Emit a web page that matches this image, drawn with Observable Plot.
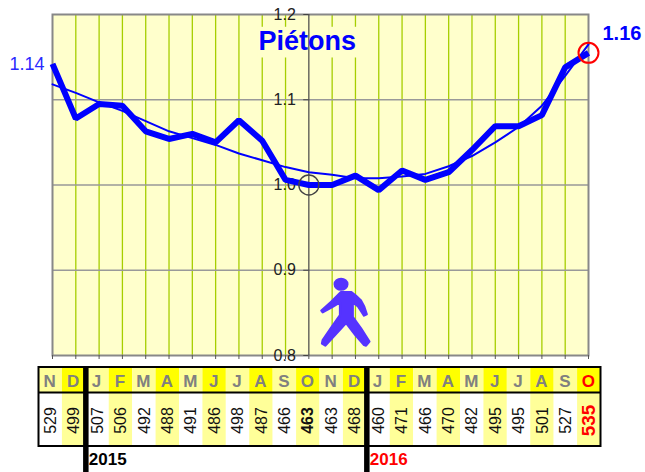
<!DOCTYPE html>
<html>
<head>
<meta charset="utf-8">
<script src="https://cdn.jsdelivr.net/npm/d3@7"></script>
<script src="https://cdn.jsdelivr.net/npm/@observablehq/plot@0.6"></script>
<style>
html,body{margin:0;padding:0;background:#fff}
#chart{width:645px;height:472px;overflow:hidden}
svg{display:block}
</style>
</head>
<body>
<div id="chart"></div>
<script>
const months = ["N","D","J","F","M","A","M","J","J","A","S","O","N","D","J","F","M","A","M","J","J","A","S","O"];
const counts = [529,499,507,506,492,488,491,486,498,487,466,463,463,468,460,471,466,470,482,495,495,501,527,535];
const ratio = [1.142,1.078,1.095,1.093,1.063,1.054,1.060,1.050,1.076,1.052,1.006,1.000,1.000,1.011,0.994,1.017,1.006,1.015,1.041,1.069,1.069,1.082,1.138,1.155];
const trend = [1.118,1.108,1.097,1.087,1.075,1.063,1.055,1.047,1.037,1.029,1.021,1.015,1.012,1.008,1.008,1.010,1.013,1.022,1.034,1.050,1.068,1.093,1.128,1.165];
const yTicks = [0.8,0.9,1.0,1.1,1.2];
const years = [{at:2,label:"2015",color:"#000"},{at:14,label:"2016",color:"#ff0000"}];

const FONT = '"Liberation Sans", Arial, sans-serif';
const BLUE = "#0000ff";
const idx = months.map((_, i) => i);
const series = idx.map(i => ({i, ratio: ratio[i], trend: trend[i]}));
const lastI = idx.length - 1;
const refI = 11;

// walker pictogram, anchored on the data scales
const walker = (index, {x, y}) => {
  const g = d3.create("svg:g")
    .attr("transform", `translate(${x(refI) - 18.3},${y(0.9) - 9.5}) scale(0.3333)`)
    .attr("fill", "#5533ff").attr("stroke", "#5533ff").attr("stroke-width", 7).attr("stroke-linejoin", "round");
  g.append("ellipse").attr("cx",153).attr("cy",72).attr("rx",19).attr("ry",16);
  g.append("path").attr("d",
    "M152 96 L184 96 Q198 106 212 120 Q224 138 230 162 L222 166 Q212 150 204 138 L188 126 L188 170 Q215 205 238 244 L228 256 L222 254 Q192 222 168 188 L124 236 L106 256 L96 250 L98 240 Q125 200 150 165 L150 126 Q125 142 98 156 L94 151 Q122 128 152 96 Z");
  return g.node();
};

const main = Plot.plot({
  width: 645, height: 362,
  marginLeft: 52, marginRight: 57, marginTop: 14, marginBottom: 7,
  style: {fontFamily: FONT, background: "transparent", overflow: "visible"},
  x: {type: "linear", domain: [0, lastI], axis: null},
  y: {type: "linear", domain: [0.8, 1.2], axis: null},
  marks: [
    Plot.frame({fill: "#ffffcc"}),
    Plot.ruleX(idx.filter(i => i > 0 && i < lastI && i !== refI), {stroke: "#a6ce00", strokeWidth: 1.3}),
    Plot.ruleY([0.9,1.0,1.1], {stroke: "#999999", strokeWidth: 1.4}),
    Plot.rect([{}], {x1: 8.8, x2: 13.1, y1: 1.149, y2: 1.185, fill: "#ffffcc"}),
    Plot.frame({stroke: "#888888", strokeWidth: 2}),
    Plot.ruleX([refI], {stroke: "#444444", strokeWidth: 1.2}),
    Plot.ruleY(yTicks, {x1: refI - 0.22, x2: refI, stroke: "#444444", strokeWidth: 1}),
    Plot.axisX(idx, {tickSize: 4, stroke: "#555555", tickFormat: () => "", label: null}),
    Plot.text(yTicks, {x: refI, y: d => d, text: d => d.toFixed(1), dx: -13, textAnchor: "end", fontSize: 16, fill: "#222222"}),
    Plot.text(["Piétons"], {x: refI, y: 1.17, dx: -1.5, dy: 1, text: d => d, fontSize: 27, fontWeight: "bold", fill: BLUE}),
    Plot.line(series, {x: "i", y: "trend", stroke: BLUE, strokeWidth: 2}),
    Plot.line(series, {x: "i", y: "ratio", stroke: BLUE, strokeWidth: 6, strokeLinejoin: "miter", strokeLinecap: "butt"}),
    Plot.dot([{i: refI, v: ratio[refI]}], {x: "i", y: "v", r: 10, stroke: "#444444", strokeWidth: 1.4, fill: "none"}),
    Plot.dot([{i: lastI, v: ratio[lastI]}], {x: "i", y: "v", r: 10, stroke: "#ff0000", strokeWidth: 2, fill: "none"}),
    Plot.text([ratio[0]], {x: 0, y: d => d, text: () => "1.14", dx: -8, textAnchor: "end", fontSize: 18, fill: "#2a2aff"}),
    Plot.text([ratio[lastI]], {x: lastI, y: d => d, text: () => "1.16", dx: 14, dy: -19, textAnchor: "start", fontSize: 20, fontWeight: "bold", fill: BLUE}),
    walker
  ]
});

// table under the chart: x in column units, y in rows
const rowTop = 5, rowSep = 30, rowBottom = 84, headMid = 19, bodyMid = 58, yearMid = 97;
const cols = idx.map(i => ({i, m: months[i], n: counts[i], a: i % 2 === 1}));
const plain = cols.filter(d => d.i !== refI && d.i !== lastI);

const table = Plot.plot({
  width: 645, height: 110,
  margin: 0,
  style: {fontFamily: FONT, background: "transparent", overflow: "visible"},
  x: {type: "linear", domain: [0, 24], range: [38.5, 600.5], axis: null},
  y: {type: "linear", domain: [0, 110], range: [0, 110], axis: null},
  marks: [
    Plot.rect(cols, {x1: "i", x2: d => d.i + 1, y1: rowTop, y2: rowSep, fill: d => d.a ? "#ffff00" : "#ffff99"}),
    Plot.rect(cols, {x1: "i", x2: d => d.i + 1, y1: rowSep, y2: rowBottom, fill: d => d.a ? "#ffff99" : "#ffffff"}),
    Plot.text(cols, {x: d => d.i + 0.5, y: headMid, text: "m", dx: -1, fontSize: 17, fontWeight: "bold",
      fill: d => d.i === lastI ? "#ff0000" : "#808080"}),
    Plot.text(plain, {x: d => d.i + 0.5, y: bodyMid, text: "n", rotate: -90, fontSize: 16, fill: "#111111"}),
    Plot.text(cols.filter(d => d.i === refI), {x: d => d.i + 0.5, y: bodyMid, text: "n", rotate: -90, fontSize: 16, fontWeight: "bold", fill: "#111111"}),
    Plot.text(cols.filter(d => d.i === lastI), {x: d => d.i + 0.5, y: bodyMid, text: "n", rotate: -90, fontSize: 19, fontWeight: "bold", fill: "#ff0000"}),
    Plot.rect([{}], {x1: 0, x2: 24, y1: rowTop, y2: rowBottom, stroke: "#000", strokeWidth: 2, fill: "none"}),
    Plot.ruleY([rowSep], {x1: 0, x2: 24, stroke: "#000", strokeWidth: 2}),
    Plot.ruleX(years, {x: "at", y1: rowTop, y2: 110, stroke: "#000", strokeWidth: 5.5}),
    Plot.text(years, {x: "at", y: yearMid, text: "label", dx: 3, textAnchor: "start", fontSize: 17, fontWeight: "bold", fill: "color"})
  ]
});

document.getElementById("chart").append(main, table);
</script>
</body>
</html>
